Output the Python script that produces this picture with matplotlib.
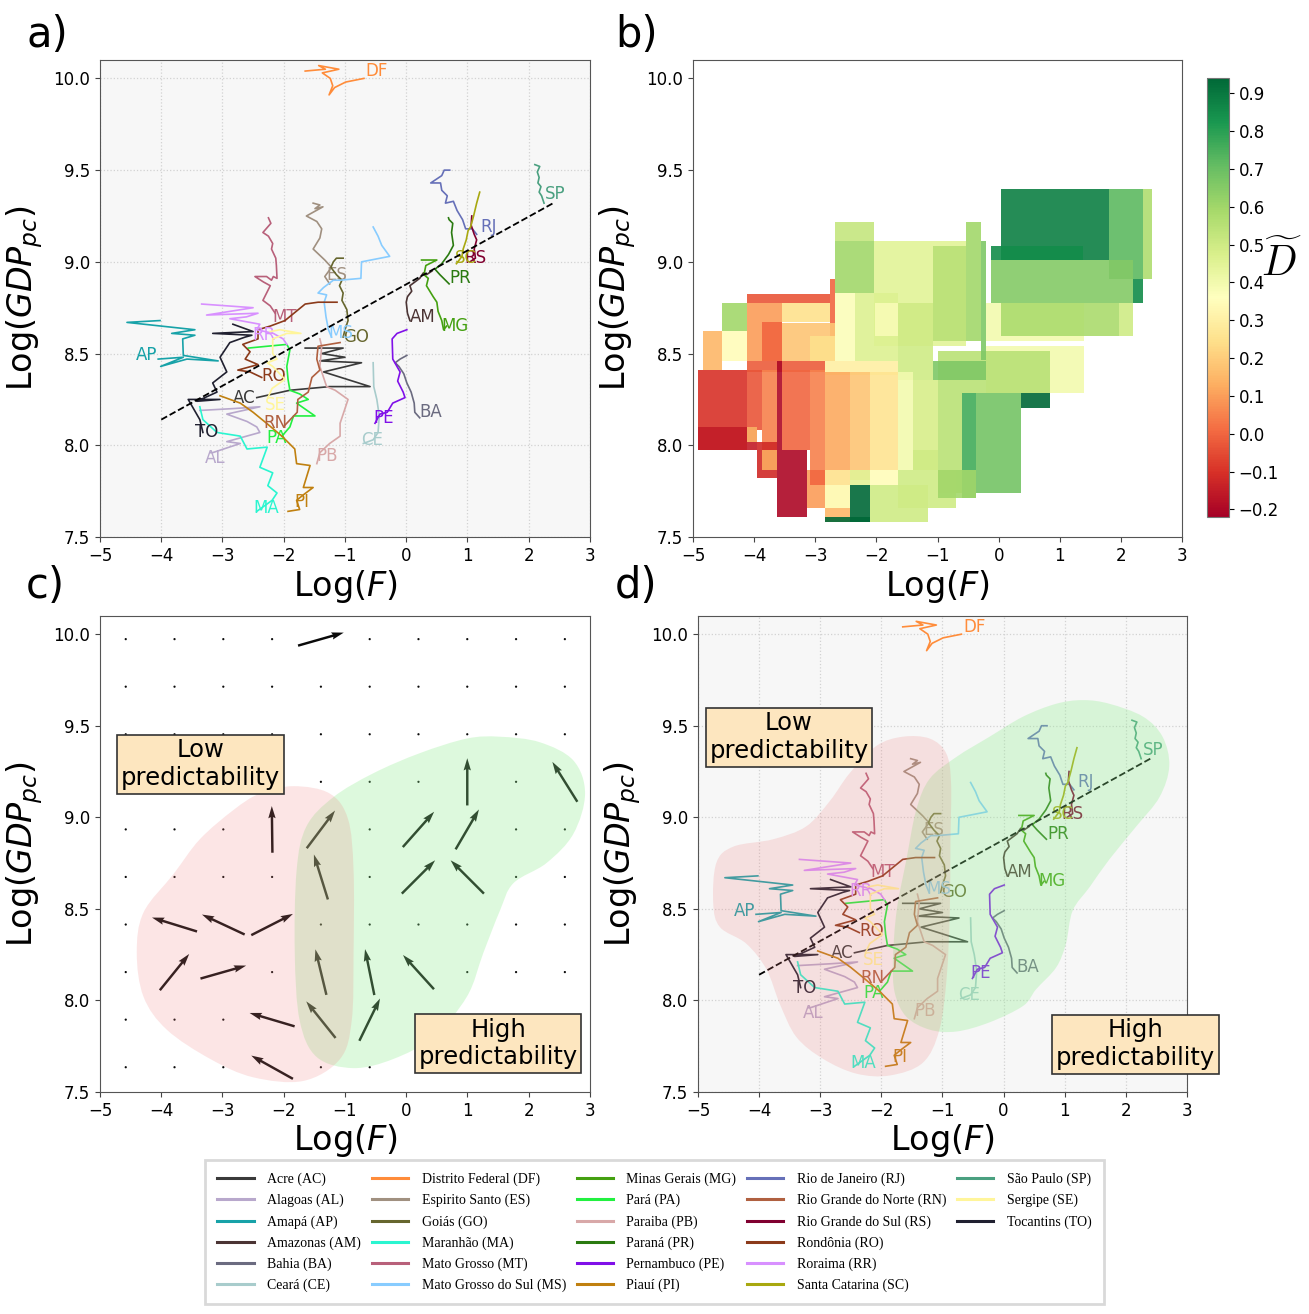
import numpy as np
import matplotlib
matplotlib.use("Agg")
import matplotlib.pyplot as plt
from matplotlib.patches import Rectangle, PathPatch
from matplotlib.path import Path
from matplotlib.lines import Line2D
from matplotlib.colors import Normalize
from matplotlib.cm import ScalarMappable

# ---------------------------------------------------------------- trajectories
ac_x = [-2.44, -1.90, -1.25, -0.59, -1.35, -0.73, -1.41, -1.00, -1.38, -1.03, -1.65]
ac_y = [8.26, 8.30, 8.32, 8.32, 8.40, 8.45, 8.46, 8.48, 8.50, 8.53, 8.53]
al_x = [-3.37, -2.83, -2.39, -2.93, -2.60, -2.44, -2.39, -2.93, -2.71, -3.16, -3.20]
al_y = [8.19, 8.20, 8.21, 8.17, 8.13, 8.10, 8.07, 8.02, 8.01, 7.96, 7.96]
ap_x = [-4.05, -3.64, -4.01, -3.58, -3.07, -3.64, -3.65, -3.45, -3.83, -3.45, -4.56, -4.02]
ap_y = [8.47, 8.48, 8.43, 8.47, 8.46, 8.49, 8.58, 8.60, 8.61, 8.63, 8.67, 8.68]
am_x = [0.42, 0.33, 0.28, 0.22, 0.14, 0.06, 0.09, 0.02, 0.00, 0.02, 0.06]
am_y = [8.95, 8.93, 8.94, 8.91, 8.89, 8.87, 8.84, 8.81, 8.78, 8.72, 8.68]
ba_x = [0.01, -0.10, -0.18, -0.12, -0.04, 0.01, 0.08, 0.13, 0.14, 0.22]
ba_y = [8.49, 8.47, 8.45, 8.43, 8.39, 8.34, 8.29, 8.23, 8.18, 8.15]
ce_x = [-0.54, -0.53, -0.48, -0.44, -0.46, -0.54, -0.70]
ce_y = [8.45, 8.32, 8.25, 8.16, 8.07, 8.03, 8.01]
df_x = [-1.65, -1.32, -1.43, -1.10, -1.37, -1.24, -1.20, -1.26, -1.17, -0.99, -0.69]
df_y = [10.04, 10.05, 10.07, 10.05, 10.03, 10.00, 9.96, 9.91, 9.95, 9.98, 10.00]
es_x = [-1.52, -1.41, -1.49, -1.36, -1.63, -1.46, -1.38, -1.41, -1.52, -1.33, -1.22, -1.33, -1.25]
es_y = [9.32, 9.31, 9.29, 9.30, 9.25, 9.22, 9.18, 9.13, 9.07, 9.01, 8.97, 8.92, 8.88]
go_x = [-1.03, -1.14, -1.19, -1.23, -1.14, -1.05, -1.09, -1.03, -1.05, -0.97, -0.95, -1.00, -1.03]
go_y = [9.02, 9.02, 9.00, 8.97, 8.93, 8.90, 8.87, 8.83, 8.79, 8.74, 8.68, 8.63, 8.59]
ma_x = [-3.37, -3.32, -3.09, -2.71, -2.60, -2.27, -2.39, -2.18, -2.26, -2.11, -2.19, -2.44]
ma_y = [8.21, 8.14, 8.07, 8.05, 7.98, 7.99, 7.88, 7.85, 7.78, 7.74, 7.70, 7.64]
mt_x = [-2.25, -2.21, -2.34, -2.25, -2.18, -2.20, -2.13, -2.12, -2.11, -2.17, -2.20, -2.28,
        -2.47, -2.33, -2.22, -2.34, -2.22, -2.14]
mt_y = [9.24, 9.21, 9.16, 9.14, 9.10, 9.07, 9.02, 8.98, 8.91, 8.92, 8.90, 8.92,
        8.92, 8.89, 8.87, 8.79, 8.76, 8.72]
ms_x = [-0.54, -0.46, -0.40, -0.27, -0.73, -0.74, -1.08, -1.19, -1.35, -1.44, -1.30, -1.34,
        -1.31, -1.27, -1.22]
ms_y = [9.19, 9.14, 9.09, 9.03, 9.00, 8.91, 8.90, 8.90, 8.86, 8.83, 8.82, 8.78,
        8.70, 8.63, 8.59]
mg_x = [0.25, 0.50, 0.32, 0.29, 0.36, 0.33, 0.44, 0.50, 0.52, 0.58, 0.61, 0.66]
mg_y = [9.01, 9.01, 8.98, 8.93, 8.91, 8.87, 8.81, 8.78, 8.73, 8.68, 8.63, 8.65]
pa_x = [-2.58, -2.27, -1.95, -1.90, -1.95, -1.93, -1.90, -1.74, -1.60, -1.79, -1.49, -1.84,
        -1.90, -2.03]
pa_y = [8.53, 8.54, 8.55, 8.52, 8.43, 8.36, 8.30, 8.28, 8.25, 8.23, 8.16, 8.16, 8.10, 8.05]
pb_x = [-1.46, -1.41, -1.25, -1.08, -1.08, -0.95, -1.16, -1.30, -1.41, -1.38, -1.41]
pb_y = [7.90, 7.96, 8.01, 8.05, 8.12, 8.25, 8.30, 8.32, 8.43, 8.54, 8.58]
pr_x = [0.70, 0.55, 0.47, 0.58, 0.69, 0.77, 0.74, 0.76, 0.70, 0.69]
pr_y = [8.88, 8.93, 8.96, 8.99, 9.04, 9.09, 9.16, 9.21, 9.23, 9.24]
pe_x = [0.01, -0.15, -0.23, -0.22, -0.10, -0.14, -0.05, -0.02, -0.22, -0.31, -0.43, -0.51]
pe_y = [8.63, 8.61, 8.58, 8.47, 8.40, 8.35, 8.29, 8.26, 8.23, 8.18, 8.17, 8.12]
pi_x = [-3.04, -2.71, -2.50, -2.28, -2.03, -1.82, -1.79, -1.57, -1.68, -1.52, -1.68, -1.79,
        -1.74, -1.93]
pi_y = [8.27, 8.23, 8.18, 8.12, 8.05, 7.98, 7.90, 7.89, 7.77, 7.77, 7.73, 7.70, 7.65, 7.64]
rj_x = [1.15, 1.08, 0.97, 0.92, 0.83, 0.77, 0.64, 0.67, 0.58, 0.56, 0.40, 0.58, 0.62, 0.71]
rj_y = [9.15, 9.18, 9.18, 9.23, 9.28, 9.33, 9.32, 9.36, 9.39, 9.43, 9.43, 9.47, 9.50, 9.50]
rn_x = [-1.98, -1.78, -1.77, -1.60, -1.54, -1.41, -1.46, -1.44, -1.08]
rn_y = [8.11, 8.18, 8.25, 8.29, 8.37, 8.41, 8.47, 8.54, 8.56]
rs_x = [1.07, 1.06, 1.11, 1.15, 1.11, 1.13, 1.04]
rs_y = [9.25, 9.20, 9.15, 9.12, 9.07, 9.02, 9.00]
ro_x = [-2.36, -2.55, -2.75, -2.42, -2.63, -2.55, -2.67, -2.42, -2.42, -2.22, -1.98, -1.65,
        -1.44, -1.13]
ro_y = [8.37, 8.40, 8.41, 8.44, 8.47, 8.51, 8.55, 8.58, 8.63, 8.65, 8.68, 8.77, 8.78, 8.78]
rr_x = [-3.34, -2.50, -3.26, -2.42, -2.61, -2.88, -2.39, -2.44, -2.17, -2.01, -1.95]
rr_y = [8.77, 8.75, 8.71, 8.72, 8.70, 8.69, 8.66, 8.63, 8.61, 8.58, 8.55]
sc_x = [1.20, 1.15, 1.10, 1.05, 1.01, 0.98, 0.93, 0.91, 0.82]
sc_y = [9.38, 9.32, 9.25, 9.19, 9.17, 9.12, 9.07, 9.03, 8.99]
sp_x = [2.10, 2.18, 2.14, 2.17, 2.15, 2.20, 2.17, 2.21, 2.25]
sp_y = [9.53, 9.52, 9.49, 9.46, 9.43, 9.41, 9.38, 9.36, 9.32]
se_x = [-2.22, -2.06, -1.72, -1.95, -2.18, -2.18, -2.11, -2.27, -2.18, -1.98, -2.19, -2.26]
se_y = [8.62, 8.63, 8.61, 8.61, 8.58, 8.50, 8.47, 8.45, 8.43, 8.36, 8.31, 8.26]
to_x = [-3.32, -3.37, -3.56, -3.04, -3.42, -3.09, -3.16, -2.93, -3.04, -2.88, -2.63, -2.52,
        -3.16, -2.50, -2.83]
to_y = [8.07, 8.14, 8.25, 8.25, 8.24, 8.29, 8.34, 8.40, 8.48, 8.56, 8.59, 8.60, 8.61, 8.62, 8.66]

codes = ["AC", "AL", "AP", "AM", "BA", "CE", "DF", "ES", "GO", "MA", "MT", "MS", "MG", "PA",
         "PB", "PR", "PE", "PI", "RJ", "RN", "RS", "RO", "RR", "SC", "SP", "SE", "TO"]
names = ["Acre", "Alagoas", "Amapá", "Amazonas", "Bahia", "Ceará", "Distrito Federal",
         "Espirito Santo", "Goiás", "Maranhão", "Mato Grosso", "Mato Grosso do Sul",
         "Minas Gerais", "Pará", "Paraiba", "Paraná", "Pernambuco", "Piauí",
         "Rio de Janeiro", "Rio Grande do Norte", "Rio Grande do Sul", "Rondônia",
         "Roraima", "Santa Catarina", "São Paulo", "Sergipe", "Tocantins"]
colors = ["#3a3a3a", "#b8a8cc", "#17a2a8", "#4b3434", "#6b6b80", "#a8cccc", "#ff8c3a",
          "#a09080", "#66662e", "#2af5d0", "#b8607a", "#88ccff", "#44a010", "#22f040",
          "#d8a8a8", "#2a7a10", "#8010e8", "#c08010", "#6670b8", "#b06040", "#800030",
          "#8b3a1a", "#d890ff", "#a8a810", "#4aa080", "#fff59a", "#202030"]
label_x = [-2.83, -3.28, -4.41, 0.06, 0.21, -0.74, -0.66, -1.31, -1.03, -2.50, -2.18, -1.27,
           0.57, -2.29, -1.46, 0.71, -0.54, -1.82, 1.21, -2.34, 0.95, -2.36, -2.52, 0.79,
           2.27, -2.30, -3.45]
label_y = [8.26, 7.93, 8.49, 8.70, 8.18, 8.03, 10.04, 8.93, 8.59, 7.66, 8.70, 8.61,
           8.65, 8.04, 7.94, 8.91, 8.15, 7.69, 9.19, 8.12, 9.02, 8.38, 8.60, 9.02,
           9.37, 8.22, 8.07]
traj_x = [ac_x, al_x, ap_x, am_x, ba_x, ce_x, df_x, es_x, go_x, ma_x, mt_x, ms_x, mg_x, pa_x,
          pb_x, pr_x, pe_x, pi_x, rj_x, rn_x, rs_x, ro_x, rr_x, sc_x, sp_x, se_x, to_x]
traj_y = [ac_y, al_y, ap_y, am_y, ba_y, ce_y, df_y, es_y, go_y, ma_y, mt_y, ms_y, mg_y, pa_y,
          pb_y, pr_y, pe_y, pi_y, rj_y, rn_y, rs_y, ro_y, rr_y, sc_y, sp_y, se_y, to_y]

reg_x = [-4.0, 2.4]
reg_y = [8.14, 9.32]

# ---------------------------------------------------------------- panel b cells
cell_x0 = [0.044, -0.120, 1.803, 2.358, -0.201, -0.120, 2.195, 0.044, 1.977, -0.201, -0.991,
           0.359, -0.365, -0.599, -0.991, -2.037, -1.073, -0.528, -0.283, -2.680, -2.680,
           -2.761, -4.112, -4.521, -4.112, -3.551, -2.680, -2.353, -2.026, -1.645, -4.842,
           -4.521, -3.878, -3.551, -3.088, -4.112, -2.843, -1.645, -1.073, -4.913, -4.112,
           -3.878, -3.633, -3.551, -3.088, -2.843, -2.435, -2.108, -1.645, -1.400, -4.913,
           -4.112, -3.960, -3.878, -3.633, -3.143, -3.088, -2.843, -2.843, -2.843, -2.435,
           -2.108, -1.645, -1.400, -0.991, -2.108, -2.435, -2.843]
cell_x1 = [1.803, 1.378, 2.358, 2.511, 1.394, 2.195, 2.358, 1.977, 2.195, 1.394, 0.833,
           0.833, 0.359, -0.365, -0.599, -0.528, -0.528, -0.283, -0.201, -2.037, -2.037,
           -2.680, -2.761, -4.112, -3.551, -2.761, -2.353, -1.645, -1.645, -1.073, -4.521,
           -4.112, -3.551, -2.680, -2.680, -2.843, -1.645, -1.073, -0.201, -4.112, -3.878,
           -3.633, -3.551, -3.088, -2.843, -2.435, -2.108, -1.645, -1.400, -0.991, -3.960,
           -3.960, -3.633, -3.633, -3.143, -2.843, -2.843, -2.435, -2.435, -2.435, -2.108,
           -1.645, -0.692, -0.991, -0.365, -1.155, -2.108, -2.108]
cell_y0 = [9.012, 9.012, 8.906, 8.906, 8.566, 8.775, 8.775, 8.594, 8.594, 8.284, 8.284,
           8.202, 7.738, 7.711, 7.738, 8.539, 8.566, 8.566, 8.466, 9.112, 8.830,
           8.466, 8.775, 8.621, 8.457, 8.670, 8.457, 8.457, 8.594, 8.457, 8.412,
           8.457, 8.457, 8.457, 8.457, 8.402, 8.384, 8.357, 8.357, 7.975, 8.084,
           7.975, 7.975, 7.975, 7.866, 7.866, 7.811, 7.866, 7.866, 7.866, 7.975,
           8.020, 7.820, 7.866, 7.607, 7.657, 7.784, 7.657, 7.657, 7.584, 7.784,
           7.784, 7.657, 7.866, 7.711, 7.584, 7.584, 7.584]
cell_y1 = [9.398, 9.089, 9.398, 9.398, 8.775, 9.012, 8.906, 8.775, 8.775, 8.539, 8.512,
           8.284, 8.284, 8.284, 8.284, 9.112, 9.089, 9.216, 9.112, 9.216, 9.112,
           8.906, 8.826, 8.775, 8.775, 8.775, 8.830, 8.830, 8.775, 8.775, 8.621,
           8.621, 8.670, 8.666, 8.594, 8.457, 8.457, 8.457, 8.457, 8.412, 8.412,
           8.412, 8.457, 8.412, 8.412, 8.402, 8.402, 8.402, 8.402, 8.357, 8.102,
           8.102, 8.020, 7.975, 7.975, 7.866, 7.866, 7.866, 7.784, 7.657, 7.866,
           7.866, 7.866, 7.975, 7.866, 7.784, 7.784, 7.607]
cell_val = [0.88, 0.85, 0.72, 0.57, 0.40, 0.65, 0.85, 0.58, 0.50, 0.40, 0.55,
            0.95, 0.68, 0.76, 0.55, 0.45, 0.55, 0.60, 0.66, 0.52, 0.60,
            0.00, -0.03, 0.60, 0.10, 0.25, 0.37, 0.46, 0.38, 0.50, 0.15,
            0.35, 0.00, 0.18, 0.25, -0.02, 0.30, 0.50, 0.66, -0.10, -0.03,
            0.05, -0.20, 0.00, 0.05, 0.12, 0.18, 0.26, 0.40, 0.48, -0.15,
            0.15, -0.12, 0.12, -0.20, 0.10, 0.00, 0.25, 0.35, 0.15, 0.45,
            0.35, 0.50, 0.50, 0.60, 0.50, 0.95, 0.95]

# ---------------------------------------------------------------- panel c field
field_x = np.linspace(-4.58, 2.59, 10)
field_y = np.linspace(9.973, 7.635, 10)
arrow_row = [0, 4, 4, 4, 4, 3, 3, 5, 5, 5, 6, 6, 6, 7, 7, 7, 7, 7, 8, 8, 8, 9]
arrow_col = [4, 3, 4, 6, 7, 7, 9, 4, 6, 7, 1, 2, 3, 1, 2, 4, 5, 6, 3, 4, 5, 3]
arrow_u = [0.746, -0.010, 0.463, 0.512, 0.381, 0.000, -0.408, -0.229, 0.544, -0.544, -0.735,
           -0.697, 0.680, 0.479, 0.746, -0.180, -0.152, -0.506, -0.735, -0.479, 0.337, -0.680]
arrow_v = [0.071, 0.255, 0.206, 0.193, 0.218, 0.258, 0.218, 0.246, 0.182, 0.182, 0.076,
           0.109, 0.116, 0.198, 0.071, 0.249, 0.251, 0.187, 0.073, 0.200, 0.231, 0.127]

# predictability regions (outline vertices)
low_c_x = [-1.84, -1.25, -0.95, -0.86, -0.86, -0.89, -1.08, -1.68, -2.50, -3.20, -3.91, -4.29,
           -4.40, -4.29, -3.80, -3.37, -2.82, -2.39]
low_c_y = [9.17, 9.13, 8.99, 8.71, 8.26, 7.89, 7.68, 7.56, 7.58, 7.68, 7.84, 8.02,
           8.26, 8.48, 8.69, 8.88, 9.04, 9.13]
high_c_x = [-1.19, -1.63, -1.79, -1.82, -1.74, -1.46, -0.86, -0.21, 0.44, 0.99, 1.26, 1.53,
            1.75, 2.29, 2.73, 2.92, 2.73, 2.18, 1.53, 0.99, 0.22, -0.54]
high_c_y = [9.11, 8.95, 8.71, 8.26, 7.89, 7.69, 7.63, 7.68, 7.80, 8.02, 8.26, 8.49,
            8.64, 8.75, 8.91, 9.13, 9.31, 9.41, 9.44, 9.43, 9.35, 9.24]
low_d_x = [-1.65, -1.21, -0.94, -0.86, -0.87, -0.88, -0.93, -1.05, -1.32, -1.86, -2.41, -2.95,
           -3.39, -3.66, -3.88, -4.21, -4.64, -4.75, -4.70, -4.42, -3.77, -3.23, -2.84, -2.52,
           -2.08]
low_d_y = [9.44, 9.43, 9.35, 9.19, 8.86, 8.49, 8.13, 7.84, 7.66, 7.59, 7.60, 7.68,
           7.80, 7.98, 8.17, 8.31, 8.40, 8.53, 8.75, 8.84, 8.88, 8.95, 9.09, 9.24, 9.39]
high_d_x = [-1.21, -1.43, -1.59, -1.75, -1.81, -1.78, -1.59, -1.21, -0.77, -0.23, 0.32, 0.53,
            0.86, 1.02, 1.13, 1.41, 1.73, 2.17, 2.55, 2.71, 2.60, 2.28, 1.73, 1.30, 0.86,
            0.32, -0.23, -0.77]
high_d_y = [9.21, 9.04, 8.77, 8.49, 8.22, 8.04, 7.91, 7.84, 7.83, 7.88, 7.97, 8.06,
            8.18, 8.31, 8.49, 8.62, 8.77, 8.95, 9.11, 9.28, 9.44, 9.55, 9.62, 9.64, 9.62,
            9.55, 9.44, 9.33]

# ---------------------------------------------------------------- figure
fig = plt.figure(figsize=(13.09, 13.14), dpi=100)
ax_a = fig.add_axes([0.0764, 0.5913, 0.3743, 0.3630])
ax_b = fig.add_axes([0.5294, 0.5913, 0.3736, 0.3630])
ax_c = fig.add_axes([0.0764, 0.1690, 0.3743, 0.3623])
ax_d = fig.add_axes([0.5332, 0.1690, 0.3736, 0.3623])
cax = fig.add_axes([0.9221, 0.6065, 0.0168, 0.3341])


def style(ax, bg="white", grid=False):
    ax.set_xlim(-5, 3)
    ax.set_ylim(7.5, 10.1)
    ax.set_xticks(range(-5, 4))
    ax.set_yticks([7.5, 8.0, 8.5, 9.0, 9.5, 10.0])
    ax.set_yticklabels(["7.5", "8.0", "8.5", "9.0", "9.5", "10.0"])
    ax.set_facecolor(bg)
    if grid:
        ax.grid(True, color="#d2d2d2", ls=":", lw=0.9)
        ax.set_axisbelow(True)
    ax.tick_params(labelsize=12, color="#444")
    for s in ax.spines.values():
        s.set_color("#555")
    ax.set_xlabel("Log($F$)", fontsize=24, labelpad=2)
    ax.set_ylabel("Log($GDP_{pc}$)", fontsize=24, labelpad=6)


def smooth_patch(xs, ys, **kw):
    # closed Catmull-Rom outline -> cubic bezier path
    p = np.column_stack([xs, ys])
    n = len(p)
    verts = [p[0]]
    cds = [Path.MOVETO]
    for i in range(n):
        p0, p1, p2, p3 = p[i - 1], p[i], p[(i + 1) % n], p[(i + 2) % n]
        verts += [p1 + (p2 - p0) / 6, p2 - (p3 - p1) / 6, p2]
        cds += [Path.CURVE4] * 3
    return PathPatch(Path(verts, cds), **kw)


def draw_trajectories(ax):
    for xs, ys, c, code, lx, ly in zip(traj_x, traj_y, colors, codes, label_x, label_y):
        ax.plot(xs, ys, color=c, lw=1.2, zorder=2)
        ax.text(lx, ly, code, color=c, fontsize=12, ha="left", va="center", zorder=2)
    ax.plot(reg_x, reg_y, "--", color="black", lw=1.3, zorder=3)


def box(ax, x, y, txt):
    ax.text(x, y, txt, ha="center", va="center", fontsize=17.5, zorder=8,
            bbox=dict(boxstyle="square,pad=0.15", fc="#fde6bf", ec="#333", lw=1.2))


# a)
style(ax_a, "#f7f7f7", True)
draw_trajectories(ax_a)

# b)
style(ax_b, "white", False)
cmap = plt.get_cmap("RdYlGn")
norm = Normalize(-0.22, 0.94)
for x0, x1, y0, y1, v in zip(cell_x0, cell_x1, cell_y0, cell_y1, cell_val):
    ax_b.add_patch(Rectangle((x0, y0), x1 - x0, y1 - y0, fc=cmap(norm(v)),
                             ec="none", alpha=0.9))
cb = fig.colorbar(ScalarMappable(norm=norm, cmap=cmap), cax=cax)
cb_ticks = [-0.2, -0.1, 0.0, 0.1, 0.2, 0.3, 0.4, 0.5, 0.6, 0.7, 0.8, 0.9]
cb.set_ticks(cb_ticks)
cb.set_ticklabels([f"{t:.1f}".replace("-", "\u2212") for t in cb_ticks])
cb.ax.tick_params(labelsize=12)
cb.outline.set_edgecolor("#777")
fig.text(0.979, 0.80, r"$\widetilde{D}$", fontsize=30, math_fontfamily="cm",
         ha="center", va="center")

# c)
style(ax_c, "white", False)
GX, GY = np.meshgrid(field_x, field_y)
U = np.zeros_like(GX)
V = np.zeros_like(GY)
for r, c, u, v in zip(arrow_row, arrow_col, arrow_u, arrow_v):
    U[r, c] = u
    V[r, c] = v
ax_c.quiver(GX, GY, U, V, angles="xy", scale_units="xy", scale=1, pivot="middle",
            width=0.005, color="#0a0a0a", zorder=2)
ax_c.add_patch(smooth_patch(high_c_x, high_c_y, fc="#90ee90", ec="none", alpha=0.3, zorder=3))
ax_c.add_patch(smooth_patch(low_c_x, low_c_y, fc="#f08080", ec="none", alpha=0.2, zorder=3))
box(ax_c, -3.36, 9.29, "Low\npredictability")
box(ax_c, 1.50, 7.765, "High\npredictability")

# d)
style(ax_d, "#f7f7f7", True)
draw_trajectories(ax_d)
ax_d.add_patch(smooth_patch(high_d_x, high_d_y, fc="#90ee90", ec="none", alpha=0.3, zorder=4))
ax_d.add_patch(smooth_patch(low_d_x, low_d_y, fc="#f08080", ec="none", alpha=0.2, zorder=4))
box(ax_d, -3.51, 9.438, "Low\npredictability")
box(ax_d, 2.16, 7.76, "High\npredictability")

for lab, x, y in [("a)", 0.020, 0.9642), ("b)", 0.470, 0.9642),
                  ("c)", 0.020, 0.5450), ("d)", 0.470, 0.5450)]:
    fig.text(x, y, lab, fontsize=30, va="baseline", ha="left")

# legend: 6 rows x 5 columns, last column holds three entries
handles = [Line2D([], [], color=c, lw=2.2) for c in colors]
labels = [f"{n} ({c})" for n, c in zip(names, codes)]
for _ in range(3):
    handles.append(Line2D([], [], color="none"))
    labels.append("")
leg = fig.legend(handles, labels, ncol=5, loc="lower center", bbox_to_anchor=(0.5, 0.002),
                 prop={"family": "Liberation Serif", "size": 10}, frameon=True,
                 fancybox=False, edgecolor="#d0d0d0", handlelength=2.6,
                 handletextpad=1.0, columnspacing=0.75, labelspacing=0.55, borderpad=0.9)
leg.get_frame().set_linewidth(2)

fig.savefig("out.png", dpi=100, facecolor="white")
